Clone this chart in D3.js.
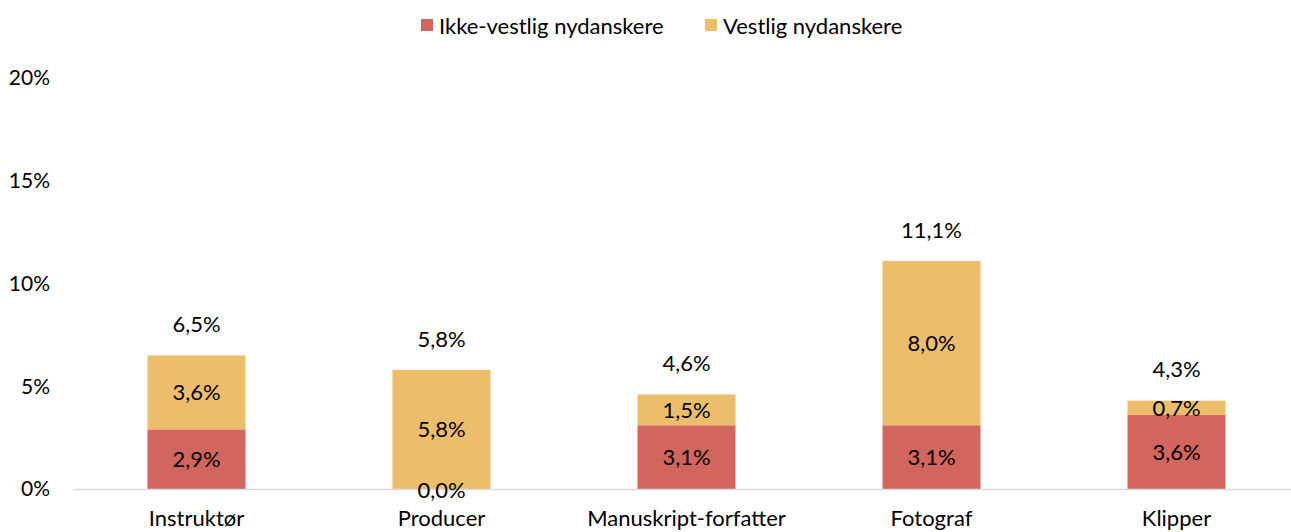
<!DOCTYPE html>
<html>
<head>
<meta charset="utf-8">
<script src="https://cdn.jsdelivr.net/npm/d3@7"></script>
<style>
  body { margin: 0; background: #fff; }
  text { font-family: Lato, "Open Sans", sans-serif; fill: #000; }
</style>
</head>
<body>
<div id="chart"></div>
<script>
// Stacked bars: nydanskere per faggruppe

const categories = ["Instruktør", "Producer", "Manuskript-forfatter", "Fotograf", "Klipper"];
const ikkeVestlig = [2.9, 0.0, 3.1, 3.1, 3.6];
const vestlig = [3.6, 5.8, 1.5, 8.0, 0.7];
const totals = [6.5, 5.8, 4.6, 11.1, 4.3];
const seriesNames = ["Ikke-vestlig nydanskere", "Vestlig nydanskere"];
const yTicks = [0, 5, 10, 15, 20];

const width = 1291,
    height = 532,
    margin = ({ top: 78, right: -8, bottom: 43, left: 74 }),
    fontSize = 22;

const colors = ["#D2665E", "#ECBE6C"];
const fmt = v => v.toFixed(1).replace(".", ",") + "%";

const svg = d3.select("#chart")
    .append("svg")
    .attr("width", width)
    .attr("height", height)
    .attr("viewBox", [0, 0, width, height]);

const data = categories.map((c, i) => ({ cat: c, ikke: ikkeVestlig[i], vest: vestlig[i], total: totals[i] }));

const x = d3.scaleBand()
    .domain(categories)
    .range([margin.left, width - margin.right])
    .paddingInner(0.6)
    .paddingOuter(0.3);

const y = d3.scaleLinear()
    .domain([0, 20])
    .range([height - margin.bottom, margin.top]);

const stack = d3.stack().keys(["ikke", "vest"])(data);

// y tick labels (no gridlines)
svg.append("g")
    .selectAll("text")
    .data(yTicks)
    .join("text")
    .attr("x", 50)
    .attr("y", d => y(d))
    .attr("dy", "0.35em")
    .attr("text-anchor", "end")
    .attr("font-size", fontSize - 1)
    .text(d => d + "%");

// bars
svg.append("g")
    .selectAll("g")
    .data(stack)
    .join("g")
    .attr("fill", (d, i) => colors[i])
    .selectAll("rect")
    .data(d => d)
    .join("rect")
    .attr("x", d => x(d.data.cat))
    .attr("y", d => y(d[1]))
    .attr("width", x.bandwidth())
    .attr("height", d => y(d[0]) - y(d[1]));

// baseline
svg.append("line")
    .attr("x1", margin.left)
    .attr("x2", width)
    .attr("y1", y(0) + 0.5)
    .attr("y2", y(0) + 0.5)
    .attr("stroke", "#d9d9d9")
    .attr("stroke-width", 1.5);

// segment labels - drawn after all bars so 0,0% sits on top
svg.append("g")
    .selectAll("text")
    .data(stack.flat())
    .join("text")
    .attr("x", d => x(d.data.cat) + x.bandwidth() / 2)
    .attr("y", d => (y(d[0]) + y(d[1])) / 2 + (d[1] - d[0] === 0 ? 1 : 0))
    .attr("dy", "0.35em")
    .attr("text-anchor", "middle")
    .attr("font-size", fontSize)
    .text(d => fmt(d[1] - d[0]));

// total labels
svg.append("g")
    .selectAll("text")
    .data(data)
    .join("text")
    .attr("x", d => x(d.cat) + x.bandwidth() / 2)
    .attr("y", d => y(d.total) - 31)
    .attr("dy", "0.35em")
    .attr("text-anchor", "middle")
    .attr("font-size", fontSize)
    .text(d => fmt(d.total));

// x labels
svg.append("g")
    .selectAll("text")
    .data(categories)
    .join("text")
    .attr("x", d => x(d) + x.bandwidth() / 2)
    .attr("y", 518)
    .attr("dy", "0.35em")
    .attr("text-anchor", "middle")
    .attr("font-size", fontSize)
    .text(d => d);

// legend
const legendX = [421, 705];
const legend = svg.append("g")
    .selectAll("g")
    .data(seriesNames)
    .join("g")
    .attr("transform", (d, i) => `translate(${legendX[i]},19)`);

legend.append("rect")
    .attr("width", 12)
    .attr("height", 12)
    .attr("fill", (d, i) => colors[i]);

legend.append("text")
    .attr("x", 18)
    .attr("y", 7)
    .attr("dy", "0.35em")
    .attr("font-size", fontSize)
    .text(d => d);
</script>
</body>
</html>
